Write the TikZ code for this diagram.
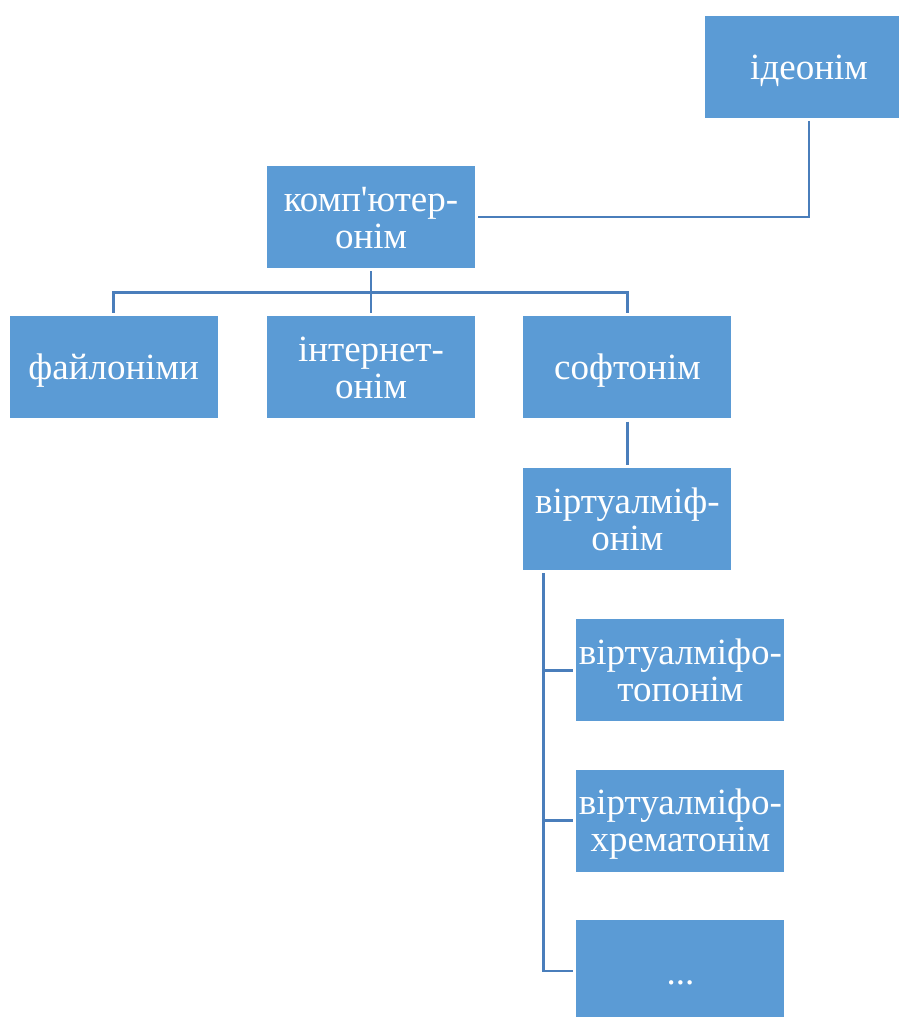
\documentclass[tikz,border=0pt]{standalone}
\usepackage{fontspec}
\setmainfont{Liberation Serif}
\usetikzlibrary{positioning}
\definecolor{boxblue}{HTML}{5B9BD5}
\definecolor{lineblue}{HTML}{4A7EBB}
\newcommand{\boxstrut}{\rule[-7pt]{0pt}{40pt}}

\begin{document}
\begin{tikzpicture}[x=1pt, y=1pt, node distance=48pt,
	box/.style={fill=boxblue, text=white, minimum width=208pt, minimum height=102pt, inner sep=1pt, align=center, font=\fontsize{37}{37}\selectfont,
		execute at begin node=\boxstrut, execute at end node=\boxstrut},
	link/.style={draw=lineblue, line width=2.8pt},
	fromgap/.style={shorten <=3pt},
	togap/.style={shorten >=3pt}]
	\useasboundingbox (0,0) rectangle (899,-1017);
	
	% Define nodes
	\node [box] (komp) at (371,-217) {\boxstrut комп\textquotesingle ютер-\\онім};
	\node [box, above=48pt of komp, xshift=438pt] (ideo) {ідеонім};
	\node [box, below=48pt of komp] (internet) {\boxstrut інтернет-\\онім};
	\node [box, left=49pt of internet] (faily) {файлоніми};
	\node [box, right=48pt of internet] (soft) {софтонім};
	\node [box, below=49pt of soft] (virt) {\boxstrut віртуалміф-\\онім};
	\node [box, below=49pt of virt, xshift=53pt] (topo) {\boxstrut віртуалміфо-\\топонім};
	\node [box, below=48pt of topo] (khrem) {\boxstrut віртуалміфо-\\хрематонім};
	\node [box, below=48pt of khrem] (dots) {...};
	
	% Connectors
	\draw[link, fromgap, togap] (ideo.south) |- (komp.east);
	
	\coordinate [below=24pt of komp.south] (kompfork);
	\draw[link, fromgap] (komp.south) -- (kompfork);
	\draw[link, togap] (kompfork) -| (faily.north);
	\draw[link, togap] (kompfork) -- (internet.north);
	\draw[link, togap] (kompfork) -| (soft.north);
	
	\draw[link, fromgap, togap] (soft) -- (virt);
	
	% Stem of the lowest branch
	\coordinate (virtstem) at ([xshift=20pt]virt.south west);
	\draw[link, fromgap, togap] (virtstem) |- (dots.west);
	\draw[link, togap] (virtstem |- topo.west) -- (topo.west);
	\draw[link, togap] (virtstem |- khrem.west) -- (khrem.west);
	
\end{tikzpicture}
\end{document}
